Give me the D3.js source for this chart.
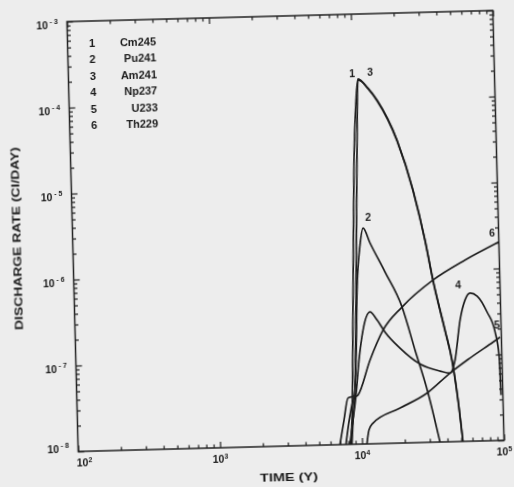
<!DOCTYPE html>
<html>
<head>
<meta charset="utf-8">
<script src="https://cdn.jsdelivr.net/npm/d3@7"></script>
<style>
  body { margin: 0; background: #ededed; }
  text { font-family: "Liberation Sans", Arial, sans-serif; font-weight: bold; fill: #1c1c1c; }
</style>
</head>
<body>
<div class="chart"></div>
<script>
// discharge rate (Ci/day) vs time (y)
const ids = ["1", "2", "3", "4", "5", "6"];
const names = ["Cm245", "Pu241", "Am241", "Np237", "U233", "Th229"];

const xTicks = [1e2, 1e3, 1e4, 1e5];
const yTicks = [1e-8, 1e-7, 1e-6, 1e-5, 1e-4, 1e-3];

const cm245 = [[8346,1e-8],[8580,1.91e-8],[9175,4.75e-7],[9897,2.02e-5],[10486,1.0e-4],[10919,1.76e-4],
  [12803,1.34e-4],[14743,9.66e-5],[20045,3.24e-5],[25439,8.41e-6],[30249,2.19e-6],[33860,7.41e-7],
  [40272,1.93e-7],[44537,8.61e-8],[48284,2.95e-8],[51347,1e-8]];
const pu241 = [[6982,1e-8],[7534,1.92e-8],[8110,3.46e-8],[8954,3.64e-8],[9391,9.52e-8],[9833,6.19e-7],
  [10520,2.06e-6],[11125,3.24e-6],[12385,2.16e-6],[15605,9.84e-7],[20250,3.81e-7],[24547,1.19e-7],
  [29770,3.74e-8],[35380,1e-8]];
const am241 = [[8483,1e-8],[8721,1.91e-8],[9120,4.27e-8],[9632,4.74e-7],[10433,2.63e-5],[10924,1.71e-4],
  [12800,1.37e-4],[14740,9.89e-5],[20045,3.34e-5],[25440,8.67e-6],[30250,2.25e-6],[33860,7.67e-7],
  [40270,2.0e-7],[44540,8.89e-8],[48280,3.03e-8],[51350,1e-8]];
const np237 = [[8211,1e-8],[8721,1.91e-8],[9254,3.73e-8],[9858,9.5e-8],[10654,2.11e-7],[12025,3.41e-7],
  [13428,2.74e-7],[15212,1.97e-7],[19267,1.27e-7],[26470,8.18e-8],[36490,6.68e-8],[42890,6.29e-8],
  [46760,8.88e-8],[51590,2.58e-7],[56390,4.4e-7],[61370,5.28e-7],[68660,4.85e-7],[80190,3.14e-7],
  [90540,1.83e-7],[95630,9.84e-8],[97140,3.37e-8]];
const u233 = [[10820,1e-8],[11253,1.45e-8],[12043,1.74e-8],[18780,2.55e-8],[29290,3.74e-8],[42890,6.29e-8],
  [59700,9.27e-8],[87270,1.4e-7],[97950,1.59e-7]];
const th229 = [[7697,1e-8],[8324,2.19e-8],[8945,3.45e-8],[9559,3.72e-8],[11783,9.42e-8],[14740,2.08e-7],
  [20250,3.81e-7],[33860,7.67e-7],[57380,1.28e-6],[100000,2.03e-6]];

const series = [cm245, pu241, am241, np237, u233, th229];

// number tags written next to the curves
const tagText = ["1", "3", "2", "6", "4", "5"];
const tagTime = [9931, 13325, 12130, 89870, 50700, 93760];
const tagRate = [2.07e-4, 2.1e-4, 4.34e-6, 2.59e-6, 6.61e-7, 2.2e-7];

const width = 514, height = 487;
const plot = {left: 72.5, right: 498.5, top: 16, bottom: 446};

const svg = d3.select(".chart").append("svg")
    .attr("width", width)
    .attr("height", height);

svg.append("rect").attr("width", width).attr("height", height).attr("fill", "#ededed");

svg.append("defs").append("filter").attr("id", "soft")
    .append("feGaussianBlur").attr("stdDeviation", 0.55);

// the scan is tilted a little, so the whole figure is turned
const g = svg.append("g")
    .attr("transform", "rotate(-1.5, 285.5, 231)")
    .attr("filter", "url(#soft)");

const x = d3.scaleLog().domain([1e2, 1e5]).range([plot.left, plot.right]);
const y = d3.scaleLog().domain([1e-8, 1e-3]).range([plot.bottom, plot.top]);

const minorX = x.ticks().filter(d => !xTicks.includes(d));
const minorY = y.ticks().filter(d => !yTicks.some(t => Math.abs(t - d) / d < 1e-6));

function axisSet(axis, scale, major, minor, pos) {
    g.append("g").attr("transform", pos)
        .call(axis(scale).tickValues(major).tickSize(-6).tickFormat(""));
    g.append("g").attr("transform", pos)
        .call(axis(scale).tickValues(minor).tickSize(-3.5).tickFormat(""));
}
axisSet(d3.axisBottom, x, xTicks, minorX, `translate(0,${plot.bottom})`);
axisSet(d3.axisTop, x, xTicks, minorX, `translate(0,${plot.top})`);
axisSet(d3.axisLeft, y, yTicks, minorY, `translate(${plot.left},0)`);
axisSet(d3.axisRight, y, yTicks, minorY, `translate(${plot.right},0)`);

g.selectAll(".domain").remove();
g.selectAll(".tick line").attr("stroke", "#2a2a2a").attr("stroke-width", 1.3);

g.append("rect")
    .attr("x", plot.left).attr("y", plot.top)
    .attr("width", plot.right - plot.left).attr("height", plot.bottom - plot.top)
    .attr("fill", "none").attr("stroke", "#222").attr("stroke-width", 1.5);

// tick labels as 10 with a raised exponent
g.selectAll(".xlab").data(xTicks).enter().append("text")
    .attr("x", (d, i) => x(d) + (i == 0 ? 6 : 0))
    .attr("y", plot.bottom + 15)
    .attr("text-anchor", "middle")
    .attr("font-size", 10.5)
    .each(function(d) {
        const t = d3.select(this);
        t.append("tspan").text("10");
        t.append("tspan").attr("dy", -4).attr("font-size", 7).text(Math.round(Math.log10(d)));
    });

g.selectAll(".ylab").data(yTicks).enter().append("text")
    .attr("x", plot.left - 9)
    .attr("y", (d, i) => y(d) + (i == 0 ? 1 : 7))
    .attr("text-anchor", "end")
    .attr("font-size", 10.5)
    .each(function(d) {
        const t = d3.select(this);
        t.append("tspan").text("10");
        t.append("tspan").attr("dy", -5).attr("dx", 2).attr("font-size", 7)
            .text("- " + Math.abs(Math.round(Math.log10(d))));
    });

g.append("text")
    .attr("x", 282.6).attr("y", 481)
    .attr("text-anchor", "middle")
    .attr("font-size", 11)
    .attr("textLength", 58).attr("lengthAdjust", "spacingAndGlyphs")
    .text("TIME (Y)");

g.append("text")
    .attr("transform", "translate(20.5,231.5) rotate(-90)")
    .attr("text-anchor", "middle")
    .attr("font-size", 11)
    .attr("textLength", 183).attr("lengthAdjust", "spacingAndGlyphs")
    .text("DISCHARGE RATE (CI/DAY)");

const line = d3.line()
    .x(d => x(d[0]))
    .y(d => y(d[1]))
    .curve(d3.curveMonotoneX);

g.selectAll(".curve").data(series).enter().append("path")
    .attr("class", "curve")
    .attr("d", line)
    .attr("fill", "none")
    .attr("stroke", "#1e1e1e")
    .attr("stroke-width", 1.7);

g.selectAll(".tag").data(tagText).enter().append("text")
    .attr("x", (d, i) => x(tagTime[i]))
    .attr("y", (d, i) => y(tagRate[i]))
    .attr("dy", "0.35em")
    .attr("text-anchor", "middle")
    .attr("font-size", 10.5)
    .text(d => d);

// legend in the upper left corner
const legend = g.append("g");
legend.selectAll(".legNum").data(ids).enter().append("text")
    .attr("x", 97)
    .attr("y", (d, i) => 38 + i * 16.5)
    .attr("dy", "0.35em")
    .attr("text-anchor", "middle")
    .attr("font-size", 11)
    .text(d => d);
legend.selectAll(".legName").data(names).enter().append("text")
    .attr("x", 161)
    .attr("y", (d, i) => 38 + i * 16.5)
    .attr("dy", "0.35em")
    .attr("text-anchor", "end")
    .attr("font-size", 11)
    .text(d => d);
</script>
</body>
</html>
